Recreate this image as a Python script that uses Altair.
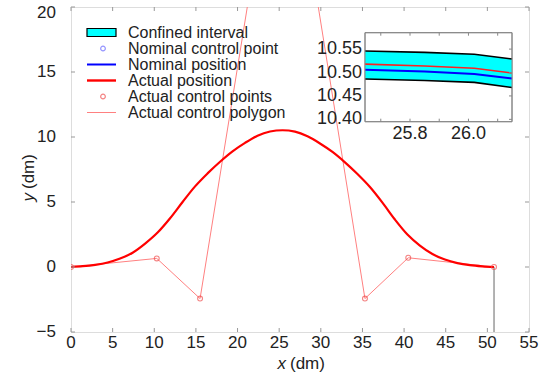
import altair as alt
import pandas as pd

FONT = "Liberation Sans"

# ---------------- main plot data ----------------
curve_x = [0, 1.4, 2.9, 4.4, 5.9, 7.4, 8.9, 10.4, 11.9, 13.4, 14.9, 16.4, 17.9,
           19.4, 20.9, 22.4, 23.9, 25.4, 26.9, 28.4, 29.9, 31.4, 32.9, 34.4,
           35.9, 37.4, 38.9, 40.4, 41.9, 43.4, 44.9, 46.4, 47.9, 49.4, 50.8]
curve_y = [0, 0.06, 0.17, 0.35, 0.65, 1.1, 1.8, 2.65, 3.75, 5.0, 6.2, 7.2, 8.1,
           8.9, 9.55, 10.1, 10.42, 10.52, 10.41, 10.05, 9.5, 8.85, 8.05, 7.15,
           6.15, 4.95, 3.65, 2.5, 1.65, 1.0, 0.57, 0.3, 0.14, 0.05, 0]

poly_x = [0, 10.3, 15.5, 23.7, 27.2, 35.3, 40.5, 50.8]
poly_y = [0, 0.66, -2.43, 30, 30, -2.43, 0.71, 0]

support_x = [50.8]
support_y_top = [0]
support_y_bottom = [-5]

x_ticks = [0, 5, 10, 15, 20, 25, 30, 35, 40, 45, 50, 55]
y_ticks = [-5, 0, 5, 10, 15, 20]
x_domain = [0, 55]
y_domain = [-5, 20]

# ---------------- inset data ----------------
inset_x = [25.646, 25.85, 26.02, 26.149]
inset_upper = [10.546, 10.543, 10.539, 10.529]
inset_red = [10.518, 10.514, 10.509, 10.499]
inset_blue = [10.506, 10.502, 10.497, 10.487]
inset_lower = [10.486, 10.483, 10.479, 10.468]
inset_x_domain = [25.646, 26.149]
inset_y_domain = [10.395, 10.585]
inset_x_labels = [25.8, 26.0]
inset_y_labels = [10.40, 10.45, 10.50, 10.55]
inset_x_minor = [25.7, 25.8, 25.9, 26.0, 26.1]

legend_labels = ["Confined interval", "Nominal control point", "Nominal position",
                 "Actual position", "Actual control points", "Actual control polygon"]

W, H = 458, 325

xs = alt.Scale(domain=x_domain, nice=False, zero=False)
ys = alt.Scale(domain=y_domain, nice=False, zero=False)

curve_df = pd.DataFrame({"x": curve_x, "y": curve_y})
poly_df = pd.DataFrame({"x": poly_x, "y": poly_y, "i": list(range(len(poly_x)))})
support_df = pd.DataFrame({"x": support_x, "y": support_y_top, "y2": support_y_bottom})
xt_df = pd.DataFrame({"v": x_ticks})
yt_df = pd.DataFrame({"v": y_ticks})

polygon = alt.Chart(poly_df).mark_line(color="#ff8080", strokeWidth=1, clip=True).encode(
    x=alt.X("x:Q", scale=xs, axis=None),
    y=alt.Y("y:Q", scale=ys, axis=None),
    order="i:Q",
)
support = alt.Chart(support_df).mark_rule(color="#999999", strokeWidth=1.5).encode(
    x=alt.X("x:Q", scale=xs, axis=None),
    y=alt.Y("y:Q", scale=ys, axis=None),
    y2="y2:Q",
)
curve = alt.Chart(curve_df).mark_line(color="#ff0000", strokeWidth=2.2, clip=True,
                                      interpolate="monotone").encode(
    x=alt.X("x:Q", scale=xs, axis=None),
    y=alt.Y("y:Q", scale=ys, axis=None),
)
points = alt.Chart(poly_df).mark_point(shape="circle", filled=False, color="#f05050",
                                       size=24, strokeWidth=1.1, clip=True).encode(
    x=alt.X("x:Q", scale=xs, axis=None),
    y=alt.Y("y:Q", scale=ys, axis=None),
)

tick_color = "#999999"
xt_bottom = alt.Chart(xt_df).mark_rule(color=tick_color).encode(
    x=alt.X("v:Q", scale=xs, axis=None), y=alt.value(H), y2=alt.value(H - 4))
xt_top = alt.Chart(xt_df).mark_rule(color=tick_color).encode(
    x=alt.X("v:Q", scale=xs, axis=None), y=alt.value(0), y2=alt.value(4))
yt_left = alt.Chart(yt_df).mark_rule(color=tick_color).encode(
    y=alt.Y("v:Q", scale=ys, axis=None), x=alt.value(0), x2=alt.value(4))
yt_right = alt.Chart(yt_df).mark_rule(color=tick_color).encode(
    y=alt.Y("v:Q", scale=ys, axis=None), x=alt.value(W - 4), x2=alt.value(W))
x_lab = alt.Chart(xt_df).mark_text(align="center", baseline="middle", fontSize=17,
                                   font=FONT, color="#222").encode(
    x=alt.X("v:Q", scale=xs, axis=None), y=alt.value(H + 11),
    text=alt.Text("v:Q", format="d"))
y_lab = alt.Chart(yt_df).transform_filter("datum.v < 20").mark_text(
    align="right", baseline="middle", fontSize=17, font=FONT, color="#222").encode(
    y=alt.Y("v:Q", scale=ys, axis=None), x=alt.value(-15),
    text=alt.Text("v:Q", format="d"))
y_lab_top = alt.Chart(yt_df).transform_filter("datum.v >= 20").mark_text(
    align="right", baseline="middle", fontSize=17, font=FONT, color="#222", dy=6).encode(
    y=alt.Y("v:Q", scale=ys, axis=None), x=alt.value(-15),
    text=alt.Text("v:Q", format="d"))

main = alt.layer(polygon, support, curve, points, xt_bottom, xt_top, yt_left, yt_right,
                 x_lab, y_lab, y_lab_top)

# ---------------- inset ----------------
ixs = alt.Scale(domain=inset_x_domain, range=[294, 441], nice=False, zero=False)
iys = alt.Scale(domain=inset_y_domain, range=[114.7, 25.7], nice=False, zero=False)

inset_df = pd.DataFrame({"x": inset_x, "up": inset_upper, "lo": inset_lower,
                         "red": inset_red, "blue": inset_blue})
frame_df = pd.DataFrame({"x0": [inset_x_domain[0]], "x1": [inset_x_domain[1]],
                         "y0": [inset_y_domain[0]], "y1": [inset_y_domain[1]]})

bg = alt.Chart(frame_df).mark_rect(fill="white", stroke="#888888", strokeWidth=1).encode(
    x=alt.X("x0:Q", scale=ixs, axis=None), x2="x1:Q",
    y=alt.Y("y0:Q", scale=iys, axis=None), y2="y1:Q")
band = alt.Chart(inset_df).mark_area(color="#00ffff", opacity=1).encode(
    x=alt.X("x:Q", scale=ixs, axis=None),
    y=alt.Y("up:Q", scale=iys, axis=None), y2="lo:Q")
up_line = alt.Chart(inset_df).mark_line(color="black", strokeWidth=1.6).encode(
    x=alt.X("x:Q", scale=ixs, axis=None), y=alt.Y("up:Q", scale=iys, axis=None))
lo_line = alt.Chart(inset_df).mark_line(color="black", strokeWidth=1.6).encode(
    x=alt.X("x:Q", scale=ixs, axis=None), y=alt.Y("lo:Q", scale=iys, axis=None))
red_line = alt.Chart(inset_df).mark_line(color="#ff2020", strokeWidth=1.6).encode(
    x=alt.X("x:Q", scale=ixs, axis=None), y=alt.Y("red:Q", scale=iys, axis=None))
blue_line = alt.Chart(inset_df).mark_line(color="#0000ff", strokeWidth=2).encode(
    x=alt.X("x:Q", scale=ixs, axis=None), y=alt.Y("blue:Q", scale=iys, axis=None))
frame = alt.Chart(frame_df).mark_rect(fillOpacity=0, stroke="#888888", strokeWidth=1).encode(
    x=alt.X("x0:Q", scale=ixs, axis=None), x2="x1:Q",
    y=alt.Y("y0:Q", scale=iys, axis=None), y2="y1:Q")

ixm_df = pd.DataFrame({"v": inset_x_minor})
iyl_df = pd.DataFrame({"v": inset_y_labels})
ixl_df = pd.DataFrame({"v": inset_x_labels})
ix_ticks_b = alt.Chart(ixm_df).mark_rule(color="#888888").encode(
    x=alt.X("v:Q", scale=ixs, axis=None), y=alt.value(114.7), y2=alt.value(111.7))
ix_ticks_t = alt.Chart(ixm_df).mark_rule(color="#888888").encode(
    x=alt.X("v:Q", scale=ixs, axis=None), y=alt.value(25.7), y2=alt.value(28.7))
iy_ticks_r = alt.Chart(iyl_df).mark_rule(color="#888888").encode(
    y=alt.Y("v:Q", scale=iys, axis=None), x=alt.value(441), x2=alt.value(438))
iy_text = alt.Chart(iyl_df).mark_text(align="right", baseline="middle", fontSize=18,
                                      font=FONT, color="#222").encode(
    y=alt.Y("v:Q", scale=iys, axis=None), x=alt.value(291),
    text=alt.Text("v:Q", format=".2f"))
ix_text = alt.Chart(ixl_df).mark_text(align="center", baseline="middle", fontSize=18,
                                      font=FONT, color="#222").encode(
    x=alt.X("v:Q", scale=ixs, axis=None), y=alt.value(127),
    text=alt.Text("v:Q", format=".1f"))

inset = alt.layer(bg, band, up_line, lo_line, red_line, blue_line, frame,
                  ix_ticks_b, ix_ticks_t, iy_ticks_r, iy_text, ix_text)

# ---------------- legend ----------------
one = pd.DataFrame({"a": [0]})
ROW0, STEP = 25.5, 16

def ry(i):
    return ROW0 + STEP * i

leg_rect = alt.Chart(one).mark_rect(fill="#00ffff", stroke="black", strokeWidth=1.2).encode(
    x=alt.value(16), x2=alt.value(45), y=alt.value(ry(0) - 4), y2=alt.value(ry(0) + 4))
leg_bpt = alt.Chart(one).mark_point(shape="circle", filled=False, color="#6a6aff",
                                    size=22, strokeWidth=1.2).encode(
    x=alt.value(32), y=alt.value(ry(1)))
leg_bline = alt.Chart(one).mark_rule(color="#0000ff", strokeWidth=2).encode(
    x=alt.value(16), x2=alt.value(45), y=alt.value(ry(2)))
leg_rline = alt.Chart(one).mark_rule(color="#ff0000", strokeWidth=2.4).encode(
    x=alt.value(16), x2=alt.value(45), y=alt.value(ry(3)))
leg_rpt = alt.Chart(one).mark_point(shape="circle", filled=False, color="#f05050",
                                    size=22, strokeWidth=1.2).encode(
    x=alt.value(32), y=alt.value(ry(4)))
leg_pline = alt.Chart(one).mark_rule(color="#ff8080", strokeWidth=1).encode(
    x=alt.value(16), x2=alt.value(45), y=alt.value(ry(5)))

leg_df = pd.DataFrame({"label": legend_labels, "i": list(range(len(legend_labels)))})
leg_text = alt.Chart(leg_df).transform_calculate(
    ypx=f"{ROW0} + {STEP} * datum.i"
).mark_text(align="left", baseline="middle", fontSize=16, font=FONT, color="#222").encode(
    x=alt.value(57), y=alt.Y("ypx:Q", scale=None, axis=None), text="label:N")

# ---------------- axis titles ----------------
xt_i = alt.Chart(one).mark_text(align="right", baseline="middle", fontSize=17, font=FONT,
                                fontStyle="italic", color="#222", text="x").encode(
    x=alt.value(215), y=alt.value(357))
xt_u = alt.Chart(one).mark_text(align="left", baseline="middle", fontSize=17, font=FONT,
                                color="#222", text="(dm)").encode(
    x=alt.value(219), y=alt.value(357))
yt_i = alt.Chart(one).mark_text(align="right", baseline="middle", fontSize=17, font=FONT,
                                fontStyle="italic", color="#222", text="y", angle=270).encode(
    x=alt.value(-42), y=alt.value(186))
yt_u = alt.Chart(one).mark_text(align="left", baseline="middle", fontSize=17, font=FONT,
                                color="#222", text="(dm)", angle=270).encode(
    x=alt.value(-42), y=alt.value(182))

chart = alt.layer(
    main, inset, leg_rect, leg_bpt, leg_bline, leg_rline, leg_rpt, leg_pline, leg_text,
    xt_i, xt_u, yt_i, yt_u
).resolve_scale(x="independent", y="independent").properties(
    width=W, height=H,
    padding={"left": 71, "top": 7, "right": 14, "bottom": 46},
    autosize=alt.AutoSizeParams(type="none"),
    background="white",
).configure_view(stroke="#999999", strokeWidth=1.3).configure(font=FONT)

chart.save("out.html", embed_options={"renderer": "svg", "actions": False})
